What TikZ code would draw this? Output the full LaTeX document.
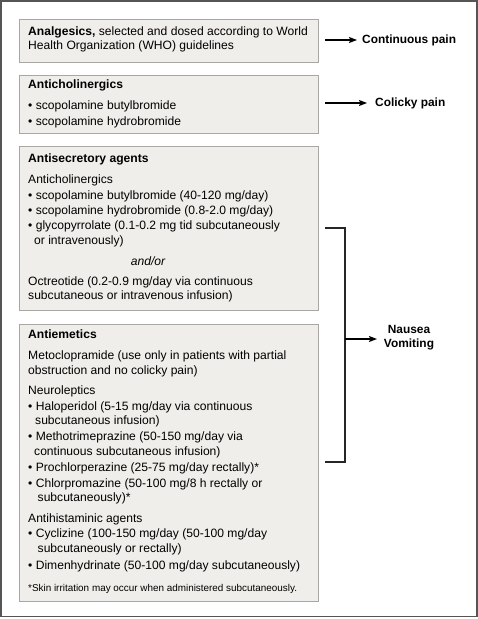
\documentclass[tikz,border=0pt]{standalone}
\usepackage{fontspec}
\setmainfont{Liberation Sans}
\usetikzlibrary{arrows.meta}
\definecolor{boxfill}{HTML}{F0EEEA}
\definecolor{boxline}{HTML}{A9A7A3}
\definecolor{frameline}{HTML}{555555}
\tikzset{
  medbox/.style={draw=boxline, fill=boxfill, line width=1pt},
  ln/.style={anchor=mid west, inner sep=0pt, font=\fontsize{12.1}{14}\selectfont},
  hd/.style={ln, font=\fontsize{12.1}{14}\selectfont\bfseries},
  fn/.style={ln, font=\fontsize{9.9}{11}\selectfont},
  lab/.style={inner sep=0pt, align=center, font=\fontsize{11.9}{14}\selectfont\bfseries},
  arr/.style={line width=1.3pt, -{Stealth[length=8pt,width=6pt,inset=1.5pt]}},
  brk/.style={line width=1.3pt, draw=black!85},
}
\newcommand{\bul}{\textbullet\ }
\begin{document}
\begin{tikzpicture}[x=1pt,y=-1pt]
\useasboundingbox (0,0) rectangle (478,619);
\draw[frameline, line width=1.5pt] (1,1) rectangle (477,616.5);
% boxes
\draw[medbox] (19,19) rectangle (318,62) node[pos=0.5, inner sep=0pt] (b1) {};
\draw[medbox] (19,75) rectangle (318,133) node[pos=0.5, inner sep=0pt] (b2) {};
\draw[medbox] (19,146) rectangle (318,310) node[pos=0.5, inner sep=0pt] (b3) {};
\draw[medbox] (19,324) rectangle (318,601) node[pos=0.5, inner sep=0pt] (b4) {};
% box 1
\node[ln] (t1a) at (28,33) {\textbf{Analgesics,} selected and dosed according to World};
\node[ln] (t1b) at (28,47) {Health Organization (WHO) guidelines};
% box 2
\node[hd] (t2a) at (28,86) {Anticholinergics};
\node[ln] (t2b) at (28,107) {\bul scopolamine butylbromide};
\node[ln] (t2c) at (28,123) {\bul scopolamine hydrobromide};
% box 3
\node[hd] (t3a) at (28,160) {Antisecretory agents};
\node[ln] (t3b) at (28,181) {Anticholinergics};
\node[ln] (t3c) at (28,197) {\bul scopolamine butylbromide (40-120 mg/day)};
\node[ln] (t3d) at (28,212) {\bul scopolamine hydrobromide (0.8-2.0 mg/day)};
\node[ln] (t3e) at (28,227) {\bul glycopyrrolate (0.1-0.2 mg tid subcutaneously};
\node[ln] (t3f) at (34,242) {or intravenously)};
\node[ln, anchor=mid] (t3g) at (148,263) {\itshape and/or};
\node[ln] (t3h) at (28,283) {Octreotide (0.2-0.9 mg/day via continuous};
\node[ln] (t3i) at (28,297) {subcutaneous or intravenous infusion)};
% box 4
\node[hd] (t4a) at (28,336) {Antiemetics};
\node[ln] (t4b) at (28,357) {Metoclopramide (use only in patients with partial};
\node[ln] (t4c) at (28,372) {obstruction and no colicky pain)};
\node[ln] (t4d) at (28,392) {Neuroleptics};
\node[ln] (t4e) at (28,408) {\bul Haloperidol (5-15 mg/day via continuous};
\node[ln] (t4f) at (35,422) {subcutaneous infusion)};
\node[ln] (t4g) at (28,438) {\bul Methotrimeprazine (50-150 mg/day via};
\node[ln] (t4h) at (34,453) {continuous subcutaneous infusion)};
\node[ln] (t4i) at (28,469) {\bul Prochlorperazine (25-75 mg/day rectally)*};
\node[ln] (t4j) at (28,485) {\bul Chlorpromazine (50-100 mg/8 h rectally or};
\node[ln] (t4k) at (37.5,499) {subcutaneously)*};
\node[ln] (t4l) at (28,520) {Antihistaminic agents};
\node[ln] (t4m) at (28,535) {\bul Cyclizine (100-150 mg/day (50-100 mg/day};
\node[ln] (t4n) at (37.5,550) {subcutaneously or rectally)};
\node[ln] (t4o) at (28,567) {\bul Dimenhydrinate (50-100 mg/day subcutaneously)};
\node[fn] (t4p) at (28,589) {*Skin irritation may occur when administered subcutaneously.};
% right labels
\node[lab, anchor=west] (L1) at (362,40) {Continuous pain};
\node[lab, anchor=west] (L2) at (375,103) {Colicky pain};
\node[lab] (L3) at (409,338) {Nausea\\Vomiting};
% connectors
\coordinate (a1) at (325,40);
\coordinate (a2) at (325,103);
\coordinate (bt) at (325,228);
\coordinate (bb) at (325,462);
\coordinate (bm) at (345,339);
\draw[arr] (a1) -- (L1.west -| 357,0) ;
\draw[arr] (a2) -- (L2.west -| 367,0);
\draw[brk] (bt) -- (345,228) -- (345,462) -- (bb);
\draw[arr] (bm) -- (377,339);
\end{tikzpicture}
\end{document}
